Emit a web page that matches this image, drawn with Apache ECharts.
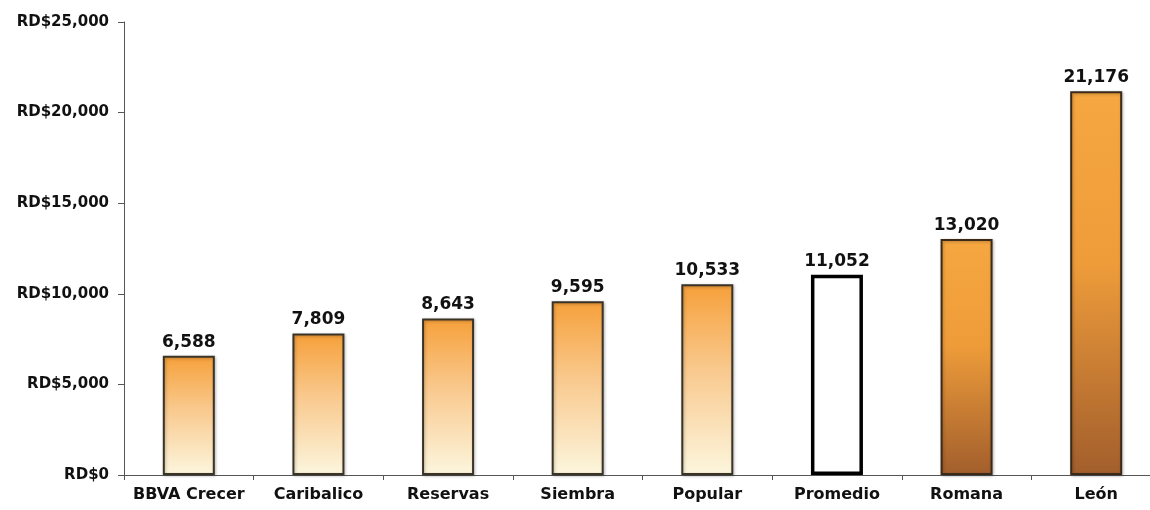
<!DOCTYPE html>
<html><head><meta charset="utf-8">
<script src="https://cdn.jsdelivr.net/npm/echarts@6/dist/echarts.min.js"></script>
<style>html,body{margin:0;padding:0;background:#fff;overflow:hidden}#c{width:1161px;height:510px}</style>
</head><body><div id="c"></div>
<script>
const categories = ['BBVA Crecer','Caribalico','Reservas','Siembra','Popular','Promedio','Romana','León'];
const values = [6588, 7809, 8643, 9595, 10533, 11052, 13020, 21176];
const yTicks = [0, 5000, 10000, 15000, 20000, 25000];

const FONT = 'DejaVu Sans';
const lightGrad = {type:'linear',x:0,y:0,x2:0,y2:1,colorStops:[{offset:0,color:'#F6A03A'},{offset:0.45,color:'#F9C98E'},{offset:1,color:'#FCF6DE'}]};
const darkGrad = {type:'linear',x:0,y:0,x2:0,y2:1,colorStops:[{offset:0,color:'#F6A740'},{offset:0.45,color:'#EE9C3A'},{offset:1,color:'#A25E2C'}]};
const kind = {'Promedio':'hollow','Romana':'dark','León':'dark'};

const data = values.map((v,i)=>{
  const k = kind[categories[i]] || 'light';
  let style;
  if (k==='hollow') style = {color:'#ffffff', borderColor:'#000000', borderWidth:3.5};
  else if (k==='dark') style = {color:darkGrad, borderColor:'#3b2a1a', borderWidth:2, shadowColor:'rgba(0,0,0,0.25)', shadowBlur:3, shadowOffsetX:1, shadowOffsetY:1};
  else style = {color:lightGrad, borderColor:'#3b3326', borderWidth:2, shadowColor:'rgba(0,0,0,0.25)', shadowBlur:3, shadowOffsetX:1, shadowOffsetY:1};
  return {value:v, itemStyle:style};
});

const chart = echarts.init(document.getElementById('c'));
chart.setOption({
  animation:false,
  backgroundColor:'#ffffff',
  grid:{left:124, top:22, bottom:35, right:0},
  xAxis:{type:'category', data:categories,
    axisLine:{lineStyle:{color:'#555', width:1}},
    axisTick:{show:true, length:5, lineStyle:{color:'#555'}},
    axisLabel:{interval:0, hideOverlap:false, color:'#111', fontFamily:FONT, fontWeight:'bold', fontSize:16, margin:12}},
  yAxis:{type:'value', min:0, max:25000, interval:5000,
    splitLine:{show:false},
    axisLine:{show:true, lineStyle:{color:'#555', width:1}},
    axisTick:{show:true, length:6, lineStyle:{color:'#555'}},
    axisLabel:{color:'#111', fontFamily:FONT, fontWeight:'bold', fontSize:15, margin:15,
      formatter:v=>'RD$'+v.toLocaleString('en-US')}},
  series:[{type:'bar', data:data, barWidth:52,
    label:{show:true, position:'top', distance:5, color:'#111', fontFamily:FONT, fontWeight:'bold', fontSize:17,
      formatter:p=>p.value.toLocaleString('en-US')}}]
});
</script></body></html>
